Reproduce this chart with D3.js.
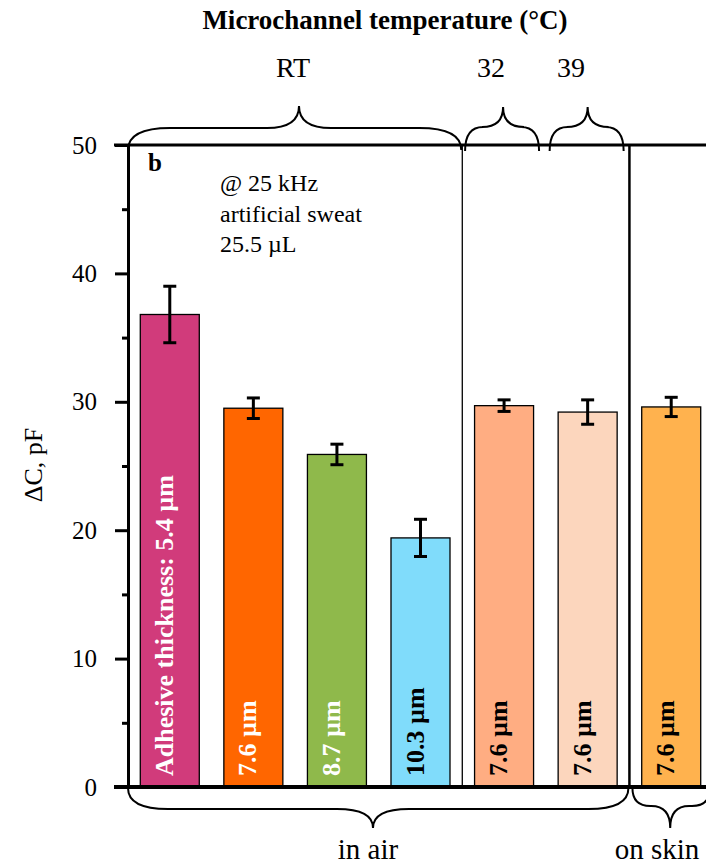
<!DOCTYPE html>
<html>
<head>
<meta charset="utf-8">
<script src="https://cdn.jsdelivr.net/npm/d3@7"></script>
<style>
  html, body { margin: 0; padding: 0; background: #fff; }
  svg { display: block; }
</style>
</head>
<body>
<svg id="chart" width="706" height="865"></svg>
<script>
// ---- data ----
const categories = ["5.4 µm", "7.6 µm", "8.7 µm", "10.3 µm", "7.6 µm (32 °C)", "7.6 µm (39 °C)", "7.6 µm (skin)"];
const barLabels = ["Adhesive thickness: 5.4 µm", "7.6 µm", "8.7 µm", "10.3 µm", "7.6 µm", "7.6 µm", "7.6 µm"];
const values = [36.8, 29.5, 25.9, 19.4, 29.7, 29.2, 29.6];
const errors = [2.2, 0.8, 0.8, 1.45, 0.45, 0.95, 0.75];
const barColors = ["#D13B7B", "#FF6600", "#8FB94B", "#80DCFB", "#FFAD82", "#FCD6BD", "#FFB24E"];
const labelColors = ["#ffffff", "#ffffff", "#ffffff", "#000000", "#000000", "#000000", "#000000"];
const majorTicks = [0, 10, 20, 30, 40, 50];
const minorTicks = [5, 15, 25, 35, 45];
const tempGroups = ["RT", "32", "39"];
const envGroups = ["in air", "on skin"];
const notes = ["@ 25 kHz", "artificial sweat", "25.5 µL"];

const FONT = "'Liberation Serif', 'Times New Roman', serif";

// ---- layout ----
const svg = d3.select("#chart");
const yTop = 145, yBot = 787, xAxis = 128;
const y = d3.scaleLinear().domain([0, 50]).range([yBot, yTop]);
const x = d3.scaleBand().domain(d3.range(categories.length)).range([xAxis, 713])
  .paddingInner(0.294).paddingOuter(0.147);
const bw = x.bandwidth();
const step = x.step();
const sepAfter = i => x(i) + bw + (step - bw) / 2;

function txt(sel) { return sel.style("font-family", FONT).attr("fill", "#000"); }

// bars
svg.append("g").selectAll("rect").data(values).join("rect")
  .attr("x", (d, i) => x(i))
  .attr("y", d => y(d))
  .attr("width", bw)
  .attr("height", d => y(0) - y(d))
  .attr("fill", (d, i) => barColors[i])
  .attr("stroke", "#000")
  .attr("stroke-width", 1.3);

// error bars
const eg = svg.append("g").attr("stroke", "#000").attr("stroke-width", 3);
values.forEach((v, i) => {
  const cx = x(i) + bw / 2;
  eg.append("line").attr("x1", cx).attr("x2", cx).attr("y1", y(v + errors[i])).attr("y2", y(v - errors[i]));
  eg.append("line").attr("x1", cx - 6.5).attr("x2", cx + 6.5).attr("y1", y(v + errors[i])).attr("y2", y(v + errors[i]));
  eg.append("line").attr("x1", cx - 6.5).attr("x2", cx + 6.5).attr("y1", y(v - errors[i])).attr("y2", y(v - errors[i]));
});

// bar labels (rotated)
svg.append("g").selectAll("text").data(barLabels).join("text")
  .attr("transform", (d, i) => `translate(${x(i) + bw / 2 + 3},${y(0) - 11}) rotate(-90)`)
  .style("font-family", FONT)
  .attr("fill", (d, i) => labelColors[i])
  .attr("font-weight", "bold")
  .attr("font-size", 26)
  .text(d => d);

// separators
svg.append("line").attr("x1", sepAfter(3)).attr("x2", sepAfter(3)).attr("y1", yTop).attr("y2", yBot)
  .attr("stroke", "#000").attr("stroke-width", 1.3);
svg.append("line").attr("x1", sepAfter(5)).attr("x2", sepAfter(5)).attr("y1", yTop).attr("y2", yBot)
  .attr("stroke", "#000").attr("stroke-width", 2.5);

// top and bottom frame lines
svg.append("line").attr("x1", 114).attr("x2", 706).attr("y1", yTop).attr("y2", yTop)
  .attr("stroke", "#000").attr("stroke-width", 3);
svg.append("line").attr("x1", 114).attr("x2", 706).attr("y1", yBot).attr("y2", yBot)
  .attr("stroke", "#000").attr("stroke-width", 4);

// y axis
const ay = svg.append("g").attr("transform", `translate(${xAxis},0)`)
  .call(d3.axisLeft(y).tickValues(majorTicks).tickSize(13).tickPadding(18).tickFormat(d3.format("d")));
ay.select(".domain").attr("stroke-width", 3);
ay.selectAll(".tick line").attr("stroke-width", 3);
ay.selectAll(".tick text").attr("font-size", 25).style("font-family", FONT).attr("fill", "#000");
const am = svg.append("g").attr("transform", `translate(${xAxis},0)`)
  .call(d3.axisLeft(y).tickValues(minorTicks).tickSize(6).tickFormat(""));
am.select(".domain").remove();
am.selectAll(".tick line").attr("stroke-width", 3);

// y title
txt(svg.append("text")).attr("transform", `translate(42,${(yTop + yBot) / 2 - 1}) rotate(-90)`)
  .attr("text-anchor", "middle").attr("font-size", 26).text("ΔC, pF");

// braces
function brace(x1, x2, xm, y0, s, h, t, r, r2) {
  const ys = y0 + s * h, yt = y0 + s * t;
  return `M${x1},${y0} Q${x1},${ys} ${x1 + r},${ys} L${xm - r2},${ys} Q${xm},${ys} ${xm},${yt} ` +
         `Q${xm},${ys} ${xm + r2},${ys} L${x2 - r},${ys} Q${x2},${ys} ${x2},${y0}`;
}
const bg = svg.append("g").attr("fill", "none").attr("stroke", "#000").attr("stroke-width", 2);
// top: temperature
const c4 = x(4) + bw / 2, c5 = x(5) + bw / 2;
bg.append("path").attr("d", brace(xAxis, sepAfter(3) - 1, 299, 150, -1, 22, 44, 42, 32));
bg.append("path").attr("d", brace(c4 - 39, c4 + 35, c4 - 1, 151, -1, 24, 44, 18, 21));
bg.append("path").attr("d", brace(c5 - 38, c5 + 36, c5, 151, -1, 24, 44, 18, 21));
// bottom: environment
const c6 = x(6) + bw / 2;
bg.append("path").attr("d", brace(xAxis, sepAfter(5) - 1, 373, 788, 1, 21, 40, 40, 36));
bg.append("path").attr("d", brace(sepAfter(5) + 3, 710, c6 - 1, 788, 1, 18, 40, 18, 19));

// temperature labels
txt(svg.append("text")).attr("x", 385).attr("y", 29).attr("text-anchor", "middle")
  .attr("font-weight", "bold").attr("font-size", 27).text("Microchannel temperature (°C)");
const tx = [293, 491, 571];
tempGroups.forEach((g, i) => {
  txt(svg.append("text")).attr("x", tx[i]).attr("y", 77).attr("text-anchor", "middle")
    .attr("font-size", 28).text(g);
});
// environment labels
const ex = [368, 657];
envGroups.forEach((g, i) => {
  txt(svg.append("text")).attr("x", ex[i]).attr("y", 859).attr("text-anchor", "middle")
    .attr("font-size", 29).text(g);
});

// annotations
txt(svg.append("text")).attr("x", 148).attr("y", 171).attr("font-weight", "bold").attr("font-size", 25).text("b");
notes.forEach((n, i) => {
  txt(svg.append("text")).attr("x", 220).attr("y", 191 + i * 30.5).attr("font-size", 24).text(n);
});
</script>
</body>
</html>
